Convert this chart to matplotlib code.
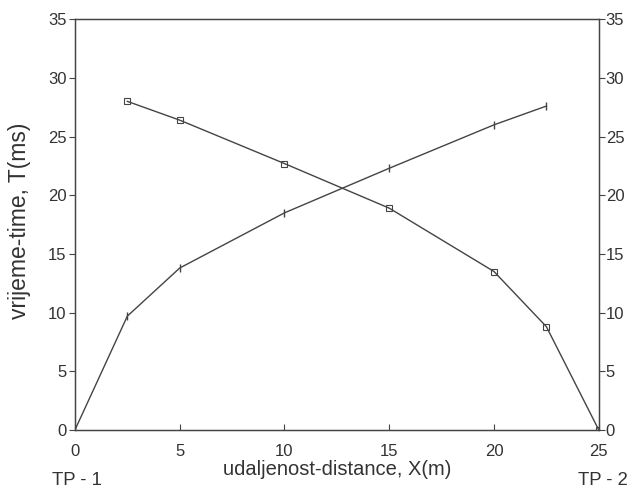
import matplotlib
matplotlib.use("Agg")
import matplotlib.pyplot as plt

x1 = [0, 2.5, 5, 10, 15, 20, 22.5]
t1 = [0, 9.7, 13.8, 18.5, 22.3, 26.0, 27.6]
x2 = [2.5, 5, 10, 15, 20, 22.5, 25]
t2 = [28.0, 26.4, 22.7, 18.9, 13.5, 8.8, 0]
yticks = [0, 5, 10, 15, 20, 25, 30, 35]
xticks = [0, 5, 10, 15, 20, 25]

plt.rcParams['font.family'] = ['Liberation Sans', 'DejaVu Sans']
col = '#444444'
tcol = '#333333'
fig = plt.figure(figsize=(6.35, 4.92), dpi=100)
ax = fig.add_axes([0.118, 0.126, 0.825, 0.835])
ax.plot(x1, t1, color=col, lw=1.0, marker='|', ms=6, mew=1.0)
ax.plot(x2, t2, color=col, lw=1.0, marker='s', ms=4, mfc='none', mew=0.8)
ax.set_xlim(0, 25)
ax.set_ylim(0, 35)
ax.set_xticks(xticks)
ax.set_yticks(yticks)
ax.tick_params(axis='x', direction='in', length=4, colors=col, labelsize=12, labelcolor=tcol, pad=10)
ax.tick_params(axis='y', direction='out', length=4, colors=col, labelsize=12, labelcolor=tcol, pad=2)
for s in ax.spines.values():
    s.set_color(col)
    s.set_linewidth(1.0)
ax2 = ax.twinx()
ax2.set_ylim(0, 35)
ax2.set_yticks(yticks)
ax2.tick_params(axis='y', direction='out', length=4, colors=col, labelsize=12, labelcolor=tcol, pad=1)
for s in ax2.spines.values():
    s.set_color(col)
ax.set_xlabel('udaljenost-distance, X(m)', fontsize=14.5, color=tcol)
ax.xaxis.set_label_coords(0.5, -0.073)
ax.set_ylabel('vrijeme-time, T(ms)', fontsize=16.5, color=tcol)
ax.yaxis.set_label_coords(-0.084, 0.51)
fig.text(0.082, 0.006, 'TP - 1', fontsize=13.3, color=tcol, va='bottom')
fig.text(0.91, 0.006, 'TP - 2', fontsize=13.3, color=tcol, va='bottom')
fig.savefig('out.png', dpi=100, facecolor='white')
